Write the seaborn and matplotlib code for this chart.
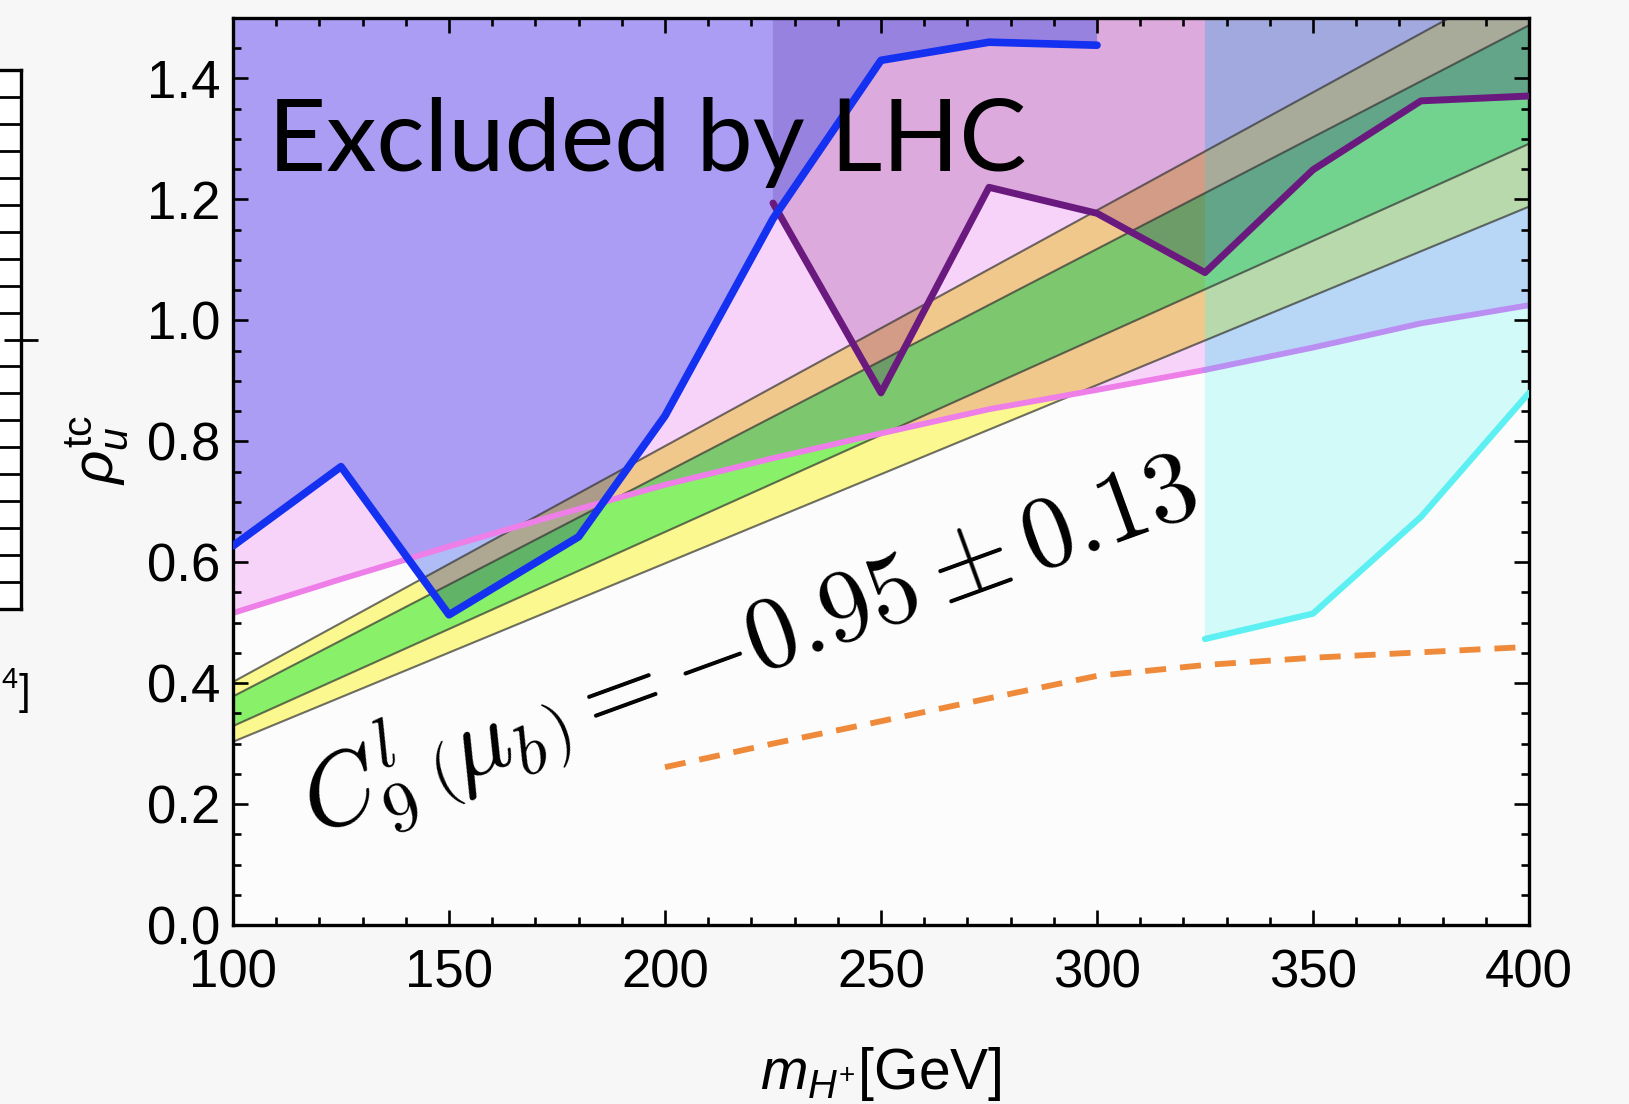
import numpy as np
import matplotlib
matplotlib.use('Agg')
import matplotlib.pyplot as plt
import matplotlib.colors as mcolors
import seaborn as sns

# ---- values ----
m_blue = [100, 125, 150, 180, 200, 225, 250, 275, 300]
rho_blue = [0.627, 0.758, 0.513, 0.642, 0.842, 1.168, 1.430, 1.460, 1.455]

m_purple = [225, 250, 275, 300, 325, 350, 375, 400]
rho_purple = [1.194, 0.880, 1.220, 1.177, 1.079, 1.249, 1.363, 1.371]

m_pink = [100, 125, 150, 175, 200, 225, 250, 275, 300, 325, 350, 375, 400]
rho_pink = [0.516, 0.572, 0.626, 0.678, 0.728, 0.772, 0.813, 0.853, 0.885,
            0.918, 0.955, 0.995, 1.025]

m_cyan = [325, 350, 375, 400]
rho_cyan = [0.473, 0.515, 0.675, 0.880]

m_orange = [200, 225, 250, 275, 300, 325, 350, 375, 400]
rho_orange = [0.261, 0.300, 0.337, 0.375, 0.412, 0.430, 0.442, 0.451, 0.460]

# C9 band edges (straight lines between the two ends)
m_band = [100, 400]
outer_hi = [0.402, 1.572]
inner_hi = [0.378, 1.488]
inner_lo = [0.329, 1.292]
outer_lo = [0.303, 1.188]

xlim = (100, 400)
ylim = (0, 1.5)

# observed colour of each overlap zone (A blue excl., B purple excl.,
# C pink excl., D cyan excl., Y outer band, G inner band)
zone_rgb = {
    '': '#fcfcfc', 'C': '#f7d4f9', 'Y': '#faf88e', 'G': '#8af06a',
    'A': '#b0bcf5', 'AC': '#ab9df3', 'AY': '#aea892',
    'CY': '#f2c88c', 'CG': '#7dc86e', 'BC': '#dcaadc', 'ABC': '#9882e0',
    'BCY': '#d49c86', 'BCG': '#6d9c6a', 'D': '#d2faf8', 'CD': '#b8d6f6',
    'CDY': '#b9d9ab', 'CDG': '#72d48e', 'BCD': '#a2a9de',
    'BCDY': '#a8ab9a', 'BCDG': '#62a688',
}

sns.set_style('ticks')
plt.rcParams['font.family'] = ['Liberation Sans', 'DejaVu Sans']
plt.rcParams['text.color'] = 'black'
plt.rcParams['mathtext.fontset'] = 'cm'
plt.rcParams['mathtext.rm'] = 'Liberation Sans'
plt.rcParams['mathtext.it'] = 'Liberation Sans:italic'
plt.rcParams['mathtext.bf'] = 'Liberation Sans:bold'

fig = plt.figure(figsize=(16.29, 11.04), dpi=100, facecolor='#f7f7f7')
ax = fig.add_axes([233 / 1629, 1 - 925 / 1104, 1296 / 1629, 907 / 1104])

# ---- shaded regions, blended multiplicatively on a raster ----
nx, ny = 2592, 1814
gx = xlim[0] + (np.arange(nx) + 0.5) * (xlim[1] - xlim[0]) / nx
gy = ylim[0] + (np.arange(ny) + 0.5) * (ylim[1] - ylim[0]) / ny
Y = gy[:, None]


def above(mx, my):
    edge = np.interp(gx, mx, my)
    inside = (gx >= mx[0]) & (gx <= mx[-1])
    return (Y > edge[None, :]) & inside[None, :]


def between(mx, lo, hi):
    return (Y > np.interp(gx, mx, lo)[None, :]) & (Y < np.interp(gx, mx, hi)[None, :])


inY = between(m_band, outer_lo, outer_hi)
inG = between(m_band, inner_lo, inner_hi)
masks = [above(m_blue, rho_blue), above(m_purple, rho_purple),
         above(m_pink, rho_pink), above(m_cyan, rho_cyan), inY & ~inG, inG]
names = 'ABCDYG'

rgb = {k: np.array(mcolors.to_rgb(v)) for k, v in zone_rgb.items()}
white = rgb['']
factor = {'A': rgb['A'] / white, 'B': rgb['BC'] / rgb['C'], 'C': rgb['C'] / white,
          'D': rgb['D'] / white, 'Y': rgb['Y'] / white, 'G': rgb['G'] / white}

code = np.zeros((ny, nx), dtype=int)
for k, m in enumerate(masks):
    code |= m.astype(int) << k
img = np.zeros((ny, nx, 3))
for c in np.unique(code):
    key = ''.join(n for k, n in enumerate(names) if (c >> k) & 1)
    if key in rgb:
        col = rgb[key]
    else:
        col = white.copy()
        for n in key:
            col = col * factor[n]
    img[code == c] = np.clip(col, 0, 1)

ax.imshow(img, extent=(*xlim, *ylim), origin='lower', aspect='auto',
          interpolation='antialiased', zorder=0)

# ---- lines ----
for edge in (outer_hi, inner_hi, inner_lo, outer_lo):
    sns.lineplot(x=m_band, y=edge, ax=ax, color='#333333', lw=1.5, alpha=0.7,
                 estimator=None, zorder=1)

i325 = m_pink.index(325)
sns.lineplot(x=m_pink[:i325 + 1], y=rho_pink[:i325 + 1], ax=ax, color='#ee7fe8',
             lw=4.2, estimator=None, zorder=2)
sns.lineplot(x=m_pink[i325:], y=rho_pink[i325:], ax=ax, color='#bb8ef2',
             lw=4.2, estimator=None, zorder=2)

sns.lineplot(x=m_orange, y=rho_orange, ax=ax, color='#ee8a3a', lw=4.2,
             linestyle=(0, (3.6, 2.4)), estimator=None, zorder=3)
sns.lineplot(x=m_cyan, y=rho_cyan, ax=ax, color='#5cf0f2', lw=4.5,
             estimator=None, zorder=3)
sns.lineplot(x=m_purple, y=rho_purple, ax=ax, color='#6a1a7e', lw=5.0,
             estimator=None, zorder=3)
sns.lineplot(x=m_blue, y=rho_blue, ax=ax, color='#1430f0', lw=5.5,
             estimator=None, zorder=4)

# ---- annotations ----
ax.text(108.1, 1.247, 'Excluded by LHC', fontsize=72.5, family=['Lato', 'DejaVu Sans'],
        color='black', va='baseline', ha='left', zorder=6)
ax.text(219.5, 0.462, r'$C_9^{l}\,\left(\mu_b\right) = -0.95 \pm 0.13$',
        fontsize=73, rotation=20, rotation_mode='anchor', ha='center', va='center',
        color='black', math_fontfamily='cm', zorder=6)

# ---- axes styling ----
ax.set_xlim(*xlim)
ax.set_ylim(*ylim)
ax.set_xticks(np.arange(100, 401, 50))
ax.set_xticks(np.arange(100, 401, 10), minor=True)
ax.set_yticks(np.arange(0, 1.41, 0.2))
ax.set_yticks(np.arange(0, 1.51, 0.05), minor=True)
ax.set_yticklabels([f'{v:.1f}' for v in np.arange(0, 1.41, 0.2)])
ax.tick_params(which='both', direction='in', top=True, right=True, width=1.9,
               color='black', labelsize=38, labelcolor='black')
ax.tick_params(which='major', length=11)
ax.tick_params(which='minor', length=6)
ax.tick_params(axis='y', pad=9)
ax.tick_params(axis='x', pad=17)
for s in ax.spines.values():
    s.set_linewidth(2.4)
    s.set_color('black')
ax.set_xlabel('')
ax.set_ylabel('')

fig.text(881 / 1629, 1 - 1089 / 1104, r'$m_{H^{+}}$[GeV]', fontsize=41,
         color='black', ha='center', va='baseline', math_fontfamily='custom')
fig.text(97 / 1629, 1 - 450 / 1104, r'$\rho_u^{\mathrm{tc}}$', fontsize=42,
         color='black', rotation=90, ha='center', va='center', math_fontfamily='custom')

# ---- cropped neighbouring panel at the left edge ----
ax0 = fig.add_axes([-0.2, 1 - 609 / 1104, 0.2 + 21 / 1629, (609 - 70) / 1104])
ax0.set_facecolor('white')
ax0.set_xlim(0, 1)
ax0.set_ylim(0, 20)
ax0.set_xticks([])
ax0.set_yticks([10])
ax0.set_yticks(np.arange(1, 20), minor=True)
ax0.tick_params(axis='y', which='both', left=False, right=True, labelleft=False,
                labelright=False, width=2.0, color='black')
ax0.tick_params(axis='y', which='major', direction='inout', length=24)
ax0.tick_params(axis='y', which='minor', direction='in', length=19)
for s in ax0.spines.values():
    s.set_linewidth(2.4)
    s.set_color('black')
fig.text(1 / 1629, 1 - 705 / 1104, r'$^4]$', fontsize=30, color='black', ha='left',
         va='baseline', math_fontfamily='custom')

fig.savefig('out.png', dpi=100, facecolor=fig.get_facecolor())
